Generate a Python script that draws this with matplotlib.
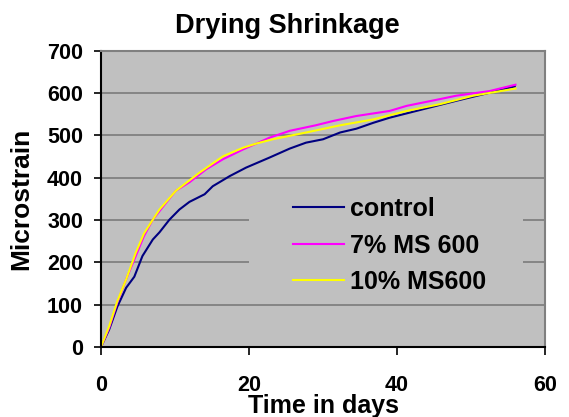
#!/usr/bin/env python3
import matplotlib
matplotlib.use('Agg')
import matplotlib.pyplot as plt
from matplotlib.patches import Rectangle

# readings (days, microstrain)
control_days = [0, 1.1, 2.2, 3.4, 4.5, 5.6, 7.0, 7.9, 9.25, 10.6, 11.95, 14.0, 15.1,
                17.4, 19.6, 22.8, 25.5, 27.7, 30.0, 32.3, 34.5, 36.8, 39.0, 43.5,
                48.0, 52.5, 55.9]
control = [0, 41, 95, 140, 166, 215, 254, 271, 301, 325, 343, 361, 380,
           404, 424, 448, 469, 483, 491, 507, 516, 530, 542, 562,
           582, 601, 616]

ms7_days = [0, 1.1, 2.2, 3.4, 4.7, 5.8, 7.0, 8.8, 10.1, 12.0, 14.2, 16.5, 19.2,
            21.0, 22.8, 25.5, 29.0, 31.3, 34.5, 39.0, 41.3, 45.8, 48.0, 52.5, 56.0]
ms7 = [0, 45, 105, 160, 215, 262, 301, 341, 369, 390, 420, 444, 467,
       481, 495, 511, 524, 534, 546, 558, 570, 586, 594, 605, 620]

ms10_days = [0, 1.1, 2.2, 3.4, 4.7, 5.8, 7.0, 7.9, 10.1, 13.3, 16.5, 19.2, 21.0,
             23.2, 27.7, 32.3, 36.8, 41.3, 45.8, 50.3, 56.0]
ms10 = [0, 49, 108, 160, 223, 268, 301, 325, 369, 412, 451, 471, 481,
        491, 507, 524, 538, 558, 574, 594, 611]

series_names = ['control', '7% MS 600', '10% MS600']

plt.rcParams['font.family'] = ['Liberation Sans', 'DejaVu Sans']
plt.rcParams['font.weight'] = 'bold'

fig = plt.figure(figsize=(5.69, 4.17), dpi=100)
ax = fig.add_axes([0.1775, 0.168, 0.7805, 0.71])
ax.set_facecolor('#C0C0C0')

ax.plot(control_days, control, color='#000080', lw=1.5, label=series_names[0])
ax.plot(ms7_days, ms7, color='#FF00FF', lw=1.5, label=series_names[1])
ax.plot(ms10_days, ms10, color='#FFFF00', lw=1.5, label=series_names[2])

ax.set_xlim(0, 60)
ax.set_ylim(0, 700)
ax.set_xticks([0, 20, 40, 60])
ax.set_yticks(range(0, 701, 100))
ax.yaxis.grid(True, color='#808080', lw=1.3)
ax.set_axisbelow(True)
ax.tick_params(axis='y', direction='out', length=5, width=1.2, labelsize=15.5, pad=8)
ax.tick_params(axis='x', direction='out', length=6, width=1.2, labelsize=15.5, pad=14)
for s in ['top', 'right']:
    ax.spines[s].set_color('#808080')
    ax.spines[s].set_linewidth(1.5)
for s in ['left', 'bottom']:
    ax.spines[s].set_linewidth(1.5)

fig.text(0.505, 1 - 33 / 417, 'Drying Shrinkage', fontsize=19.5, fontweight='bold',
         ha='center', va='baseline')
ax.set_xlabel('Time in days', fontsize=18, fontweight='bold', labelpad=-1)
ax.set_ylabel('Microstrain', fontsize=19, fontweight='bold', labelpad=10)

# legend background hides the gridlines behind it
ax.add_patch(Rectangle((0.333, 0.159), 0.617, 0.388, transform=ax.transAxes,
                       facecolor='#C0C0C0', edgecolor='none', zorder=0.9))
ax.legend(loc='upper left', bbox_to_anchor=(0.432, 0.506), frameon=False,
          fontsize=18, handlelength=2.05, handletextpad=0.25, labelspacing=0.5,
          borderpad=0, borderaxespad=0)

fig.savefig('out.png', dpi=100)
